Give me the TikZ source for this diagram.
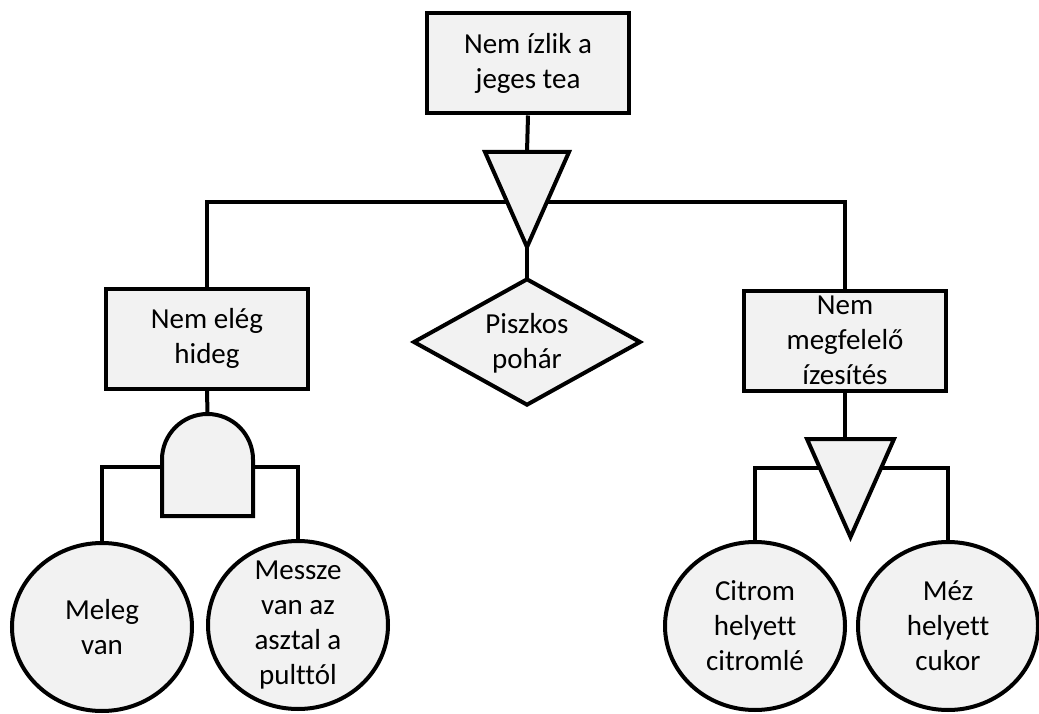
\documentclass[tikz,border=0pt]{standalone}
\usepackage{fontspec}
\setmainfont{Carlito}[Ligatures=NoCommon]
\usetikzlibrary{shapes.geometric,backgrounds}
\definecolor{fillg}{HTML}{F2F2F2}
\newcommand{\tfont}{\fontsize{29}{35}\selectfont}
\begin{document}
\begin{tikzpicture}[x=1pt,y=1pt,
  lw/.style={line width=4pt},
  boxn/.style={draw,lw,fill=fillg,rectangle,minimum width=202pt,minimum height=100pt,inner sep=0pt,align=center,font=\tfont},
  evt/.style={draw,lw,fill=fillg,ellipse,minimum width=180pt,minimum height=168pt,inner sep=0pt},
  lbl/.style={inner sep=0pt,align=center,font=\tfont},
  gate/.style={draw,lw,fill=fillg,line join=miter},
  wire/.style={lw}]
\path[use as bounding box] (0,0) rectangle (1039,-714);

% events (boxes)
\node[boxn] (top) at (528,-63.5) {Nem ízlik a\\jeges tea};
\node[boxn] (left) at (207,-338.5) {Nem elég\\hideg};
\node[boxn] (right) at (845,-340.5) {Nem\\megfelelő\\ízesítés};

% basic events (ellipses)
\node[evt] (meleg) at (102,-627) {};
\node[lbl] (melegtxt) at (meleg.center) {Meleg\\van};
\node[evt] (messze) at (298,-625) {};
\node[lbl] (messzetxt) at (messze.center) {Messze\\van az\\asztal a\\pulttól};
\node[evt] (citrom) at (755,-626) {};
\node[lbl] (citromtxt) at (citrom.center) {Citrom\\helyett\\citromlé};
\node[evt] (mez) at (948,-626) {};
\node[lbl] (meztxt) at (mez.center) {Méz\\helyett\\cukor};

% top OR gate (triangle)
\coordinate (t1top) at (527,-152);
\coordinate (t1mid) at (527,-202);
\coordinate (t1apex) at (527,-247);
\draw[gate] (485,-152) -- (569,-152) -- (t1apex) -- cycle;

% diamond (undeveloped event)
\coordinate (dtop) at (527,-279.3);
\draw[gate] (dtop) -- (640,-342) -- (527,-404.7) -- (414,-342) -- cycle;
\node[lbl] (piszkos) at (527,-343) {Piszkos\\pohár};

% AND gate
\coordinate (andtop) at (207.5,-414);
\coordinate (andmid) at (207.5,-467);
\draw[gate] (162,-516) -- (162,-459.5) arc[start angle=180,end angle=0,radius=45.5] -- (253,-516) -- cycle;

% right OR gate (triangle)
\coordinate (t2top) at (845,-439);
\coordinate (t2mid) at (850,-468);
\draw[gate] (807,-439) -- (894,-439) -- (850.5,-537) -- cycle;

% connectors
\begin{scope}[on background layer]
\draw[wire] (top.south) -- (t1top);
\draw[wire] (left.north) |- (t1mid) -| (right.north);
\draw[wire] (t1apex) -- (dtop);
\draw[wire] (left.south) -- (andtop);
\draw[wire] (meleg.north) |- (andmid) -| (messze.north);
\draw[wire] (right.south) -- (t2top);
\draw[wire] (citrom.north) |- (t2mid) -| (mez.north);
\end{scope}
\end{tikzpicture}
\end{document}
